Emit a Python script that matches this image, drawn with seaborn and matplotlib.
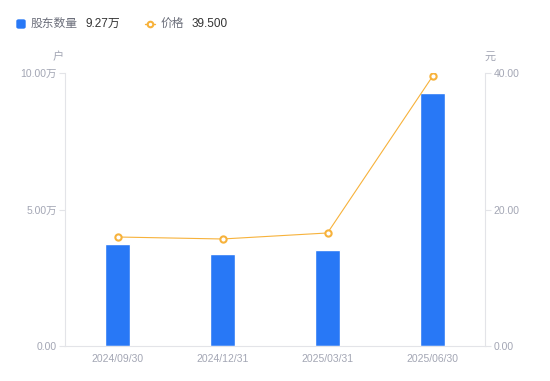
import matplotlib
matplotlib.use("Agg")
import matplotlib.pyplot as plt
import seaborn as sns
import pandas as pd

dates = ["2024/09/30", "2024/12/31", "2025/03/31", "2025/06/30"]
holders = [3.74, 3.37, 3.52, 9.27]   # 万户
price = [15.97, 15.68, 16.56, 39.50]  # 元
left_ticks = [0, 5, 10]
left_labels = ["0.00", "5.00万", "10.00万"]
right_ticks = [0, 20, 40]
right_labels = ["0.00", "20.00", "40.00"]

sns.set_theme(style="white")
plt.rcParams['font.family'] = ['Liberation Sans', 'Noto Sans CJK SC', 'DejaVu Sans']

df = pd.DataFrame({"date": dates, "holders": holders, "price": price})

BLUE = "#2878f6"
ORANGE = "#f7b23b"
TICK = "#a3a6b4"
AXIS = "#e3e4e8"

fig = plt.figure(figsize=(5.5, 3.81), dpi=100)
ax = fig.add_axes([65/550, 35/381, 420/550, 273/381])
sns.barplot(data=df, x="date", y="holders", ax=ax, color=BLUE, width=0.24,
            saturation=1)
ax.set_xlim(-0.5, 3.5)
ax.set_ylim(0, 10)
ax.set_yticks(left_ticks)
ax.set_yticklabels(left_labels)
ax.set_xlabel("")
ax.set_ylabel("")

ax2 = ax.twinx()
sns.lineplot(data=df, x="date", y="price", ax=ax2, color=ORANGE, lw=0.8,
             marker="o", markersize=4.5, markerfacecolor="white",
             markeredgecolor=ORANGE, markeredgewidth=1.5)
ax2.set_ylim(0, 40)
ax2.set_xlim(-0.5, 3.5)
ax2.set_yticks(right_ticks)
ax2.set_yticklabels(right_labels)
ax2.set_ylabel("")

for a in (ax, ax2):
    for s in a.spines.values():
        s.set_visible(False)
    a.grid(False)

ax.spines['left'].set_visible(True)
ax.spines['left'].set_color(AXIS)
ax.spines['bottom'].set_visible(True)
ax.spines['bottom'].set_color(AXIS)
ax2.spines['right'].set_visible(True)
ax2.spines['right'].set_color(AXIS)
for sp in ('left', 'bottom'):
    ax.spines[sp].set_linewidth(0.8)
ax2.spines['right'].set_linewidth(0.8)

ax.tick_params(axis='y', colors=AXIS, labelcolor=TICK, labelsize=7.5,
               length=4, width=0.8, pad=2, left=True)
ax.tick_params(axis='x', colors=AXIS, labelcolor=TICK, labelsize=7.5,
               length=0, pad=6)
ax2.tick_params(axis='y', colors=AXIS, labelcolor=TICK, labelsize=7.5,
                length=4, width=0.8, pad=2, right=True)

fig.text(58/550, 1 - 57/381, "户", color=TICK, fontsize=8, ha="center", va="center")
fig.text(490/550, 1 - 57/381, "元", color=TICK, fontsize=8, ha="center", va="center")

# legend
from matplotlib.patches import FancyBboxPatch
from matplotlib.lines import Line2D
ly = 1 - 24/381
fig.patches.append(FancyBboxPatch((17/550, ly - 4/381), 8/550, 8/381,
                                  boxstyle="round,pad=0,rounding_size=0.003",
                                  transform=fig.transFigure, color=BLUE))
fig.text(31/550, ly, "股东数量", color="#6b6e7a", fontsize=8.5, va="center")
fig.text(85/550, ly, "9.27万", color="#333333", fontsize=8.5, va="center")
fig.lines.append(Line2D([145/550, 155/550], [ly, ly], transform=fig.transFigure,
                        color=ORANGE, lw=1))
fig.lines.append(Line2D([150/550], [ly], transform=fig.transFigure, color=ORANGE,
                        marker="o", markersize=4, markerfacecolor="white",
                        markeredgewidth=1.5))
fig.text(161/550, ly, "价格", color="#6b6e7a", fontsize=8.5, va="center")
fig.text(192/550, ly, "39.500", color="#333333", fontsize=8.5, va="center")

fig.savefig("out.png", dpi=100)
